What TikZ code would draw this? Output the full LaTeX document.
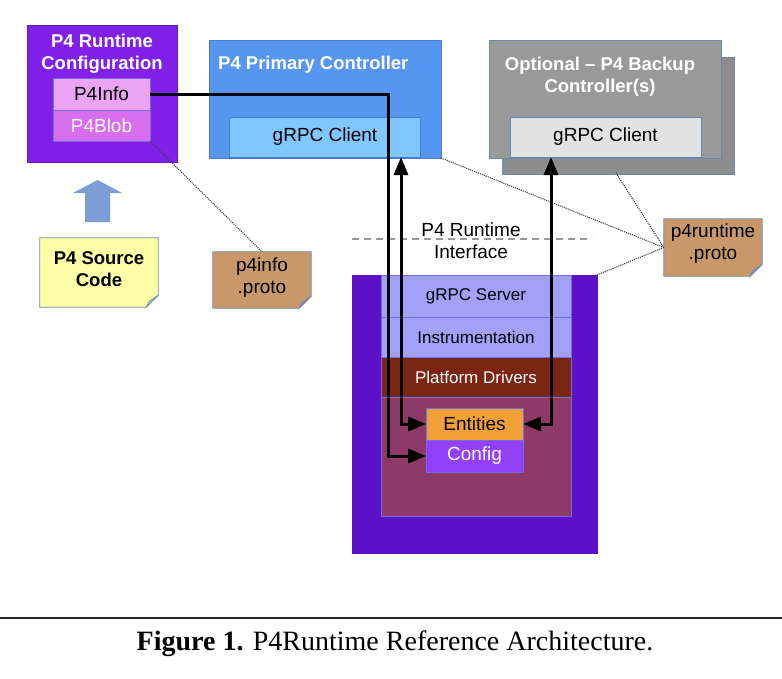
\documentclass[tikz,border=0pt]{standalone}
\usepackage{fontspec}
\setmainfont{Liberation Sans}
\newfontfamily\capfont{Liberation Serif}
\usetikzlibrary{arrows.meta,backgrounds,calc}
\definecolor{cfgpurple}{RGB}{128,32,232}
\definecolor{infopink}{RGB}{236,164,246}
\definecolor{blobpink}{RGB}{214,110,238}
\definecolor{primblue}{RGB}{86,150,240}
\definecolor{primbd}{RGB}{70,125,210}
\definecolor{clientblue}{RGB}{128,198,255}
\definecolor{bkgray}{RGB}{153,153,153}
\definecolor{bkbd}{RGB}{110,135,175}
\definecolor{clientgray}{RGB}{226,226,226}
\definecolor{uparrow}{RGB}{124,158,212}
\definecolor{noteyellow}{RGB}{255,255,168}
\definecolor{notebd}{RGB}{106,134,184}
\definecolor{tan}{RGB}{200,152,106}
\definecolor{foldgray}{RGB}{140,140,160}
\definecolor{foldyel}{RGB}{210,210,120}
\definecolor{swouter}{RGB}{92,16,200}
\definecolor{lav}{RGB}{163,160,248}
\definecolor{lavbd}{RGB}{110,110,220}
\definecolor{drivers}{RGB}{122,38,18}
\definecolor{maroon}{RGB}{142,58,104}
\definecolor{entorange}{RGB}{240,160,52}
\definecolor{cfgbox}{RGB}{148,64,248}
\tikzset{
  box/.style={draw=#1, line width=0.8pt, inner sep=0pt, outer sep=0pt},
  box/.default=bkbd,
  bodyt/.style={font=\fontsize{19}{22}\selectfont, align=center, inner sep=0pt},
  layert/.style={font=\fontsize{17}{20}\selectfont, align=center, inner sep=0pt},
  titlet/.style={font=\fontsize{18.5}{22}\selectfont\bfseries, text=white, align=center, inner sep=0pt},
  conn/.style={line width=3pt, draw=black},
  tip/.style={-{Triangle[length=18pt,width=14pt]}},
  dtip/.style={{Triangle[length=18pt,width=14pt]}-{Triangle[length=18pt,width=14pt]}},
  dots/.style={densely dotted, line width=1.1pt, draw=black!75},
}
\newcommand{\drawnote}[3]{%
  \filldraw[fill=#2, draw=notebd, line width=0.8pt] (#1.north west) -- (#1.north east) -- ([yshift=12pt]#1.south east) -- ([xshift=-12pt]#1.south east) -- (#1.south west) -- cycle;
  \filldraw[fill=#3, draw=notebd, line width=0.6pt] ([yshift=12pt]#1.south east) -- ([xshift=-12pt]#1.south east) -- ([xshift=-9pt,yshift=6pt]#1.south east) -- cycle;}
\begin{document}
\begin{tikzpicture}[x=1pt,y=-1pt]
\path[use as bounding box, fill=white] (0,0) rectangle (782,678);

% ---------- P4 Runtime Configuration ----------
\node[box=cfgpurple!80!black, fill=cfgpurple, minimum width=150pt, minimum height=137pt] (cfg) at (102,93.5) {};
\node[titlet] (cfgt) at (102,54) {P4 Runtime\\Configuration};
\node[box=lavbd, fill=infopink, minimum width=97pt, minimum height=32pt, bodyt] (p4info) at (101.5,94) {P4Info};
\node[box=lavbd, fill=blobpink, minimum width=97pt, minimum height=31pt, bodyt, text=white!92!pink] (p4blob) at (101.5,125.5) {P4Blob};

% up arrow
\node[inner sep=0pt, minimum width=49pt, minimum height=42pt] (uparr) at (97.5,201) {};
\fill[uparrow] (85,222) -- (85,193) -- (73,193) -- (97.5,180) -- (122,193) -- (110,193) -- (110,222) -- cycle;

% P4 Source Code note
\node[minimum width=118pt, minimum height=69pt, inner sep=0pt] (src) at (99,272.5) {};
\drawnote{src}{noteyellow}{foldyel}
\node[titlet, text=black] (srct) at (99,269) {P4 Source\\Code};

% p4info.proto note
\node[minimum width=98pt, minimum height=56pt, inner sep=0pt] (pinfo) at (262,280) {};
\drawnote{pinfo}{tan}{foldgray}
\node[bodyt] (pinfot) at (262,278) {p4info\\.proto};

% ---------- Primary controller ----------
\node[box=primbd, fill=primblue, minimum width=232pt, minimum height=118pt] (prim) at (325,99) {};
\node[titlet, anchor=base west] (primt) at (218,69) {P4 Primary Controller};
\node[box=primbd, fill=clientblue, minimum width=191pt, minimum height=40pt, bodyt] (gcp) at (325,137) {gRPC Client};

% ---------- Backup controller ----------
\node[box, fill=bkgray!92!black, minimum width=232pt, minimum height=117pt] (bkshadow) at (618,115.5) {};
\node[box, fill=bkgray, minimum width=232pt, minimum height=118pt] (bk) at (605,99) {};
\node[titlet] (bkt) at (600,77) {Optional – P4 Backup\\Controller(s)};
\node[box, fill=clientgray, minimum width=191pt, minimum height=40pt, bodyt] (gcb) at (605.5,137) {gRPC Client};

% p4runtime.proto
\node[minimum width=98pt, minimum height=57pt, inner sep=0pt] (prt) at (713,247.5) {};
\drawnote{prt}{tan}{foldgray}
\node[bodyt] (prtt) at (713,244) {p4runtime\\.proto};

% ---------- Interface ----------
\coordinate (dl) at (352,239);
\coordinate (dr) at (592,239);
\draw[draw=black!40, line width=2pt, dash pattern=on 7pt off 5pt] (dl) -- (dr);
\node[bodyt] (ifc) at (471,241) {P4 Runtime\\Interface};

% ---------- Switch ----------
\node[box=swouter, fill=swouter, minimum width=245pt, minimum height=278pt] (sw) at (474.5,414) {};
\node[box=lavbd, fill=maroon, minimum width=190pt, minimum height=119pt] (bot) at (476,456.5) {};
\node[box=lavbd, fill=lav, minimum width=190pt, minimum height=42pt, layert] (gsrv) at (476,296) {gRPC Server};
\node[box=lavbd, fill=lav, minimum width=190pt, minimum height=40pt, layert] (instr) at (476,337) {Instrumentation};
\node[box=lavbd, fill=drivers, minimum width=190pt, minimum height=40pt, layert, text=white] (drv) at (476,377) {Platform Drivers};
\node[box=lavbd, fill=entorange, minimum width=97pt, minimum height=32pt, bodyt] (ent) at (474.5,424) {Entities};
\node[box=lavbd, fill=cfgbox, minimum width=97pt, minimum height=32pt, bodyt, text=white] (cfgb) at (474.5,456) {Config};

% ---------- dotted links ----------
\draw[dots] (p4blob.south east) -- (pinfo.north);
\draw[dots] (prim.south east) -- (prt.west);
\coordinate (bkdot) at (616,173);
\draw[dots] (bkdot) -- (prt.west);
\draw[dots] (sw.north east) -- (prt.west);

% ---------- connectors ----------
\coordinate (bendA) at (388,94);
\coordinate (xp) at (401,0);
\coordinate (xb) at (551,0);
\draw[conn, tip] (p4info.east) -- (bendA) |- (cfgb.west);
\draw[conn, dtip] (gcp.south -| xp) |- (ent.west);
\draw[conn, dtip] (gcb.south -| xb) |- (ent.east);

% ---------- caption ----------
\coordinate (cl) at (0,618);
\coordinate (cr) at (782,618);
\draw[line width=2pt, black!85] (cl) -- (cr);
\node[font=\capfont\fontsize{28}{32}\selectfont, anchor=base, inner sep=0pt] (cap) at (395,650) {\textbf{Figure 1.} P4Runtime Reference Architecture.};
\end{tikzpicture}
\end{document}
